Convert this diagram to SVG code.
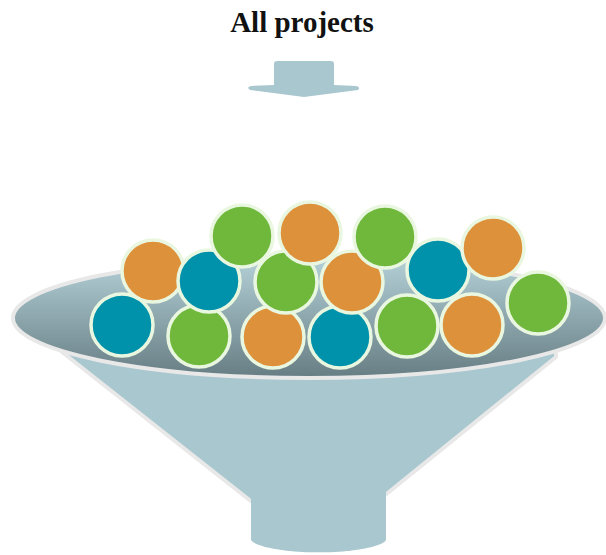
<svg xmlns="http://www.w3.org/2000/svg" width="606" height="555" viewBox="0 0 606 555">
<style>
.ball{stroke:#eaf7e0;stroke-width:3.5}
.o{fill:#dd913a}.g{fill:#6fb83b}.t{fill:#0092aa}
.funnel{fill:#a9c7cf}
</style>
<defs>
<linearGradient id="bowl" x1="0" y1="0" x2="0" y2="1">
<stop offset="0" stop-color="#b4d0d7"/>
<stop offset="1" stop-color="#667d83"/>
</linearGradient>
</defs>
<rect width="606" height="555" fill="#ffffff"/>
<g id="title">
<text x="302" y="32" text-anchor="middle" font-family="'Liberation Serif', serif" font-weight="bold" font-size="29" fill="#111">All projects</text>
</g>
<g id="arrow">
<path class="funnel" d="M277,61 L331,61 Q334,61 334,64 L334,85 L356,86 Q361,87 358,90 L304,97 L250,90 Q246,87 251,86 L274,85 L274,64 Q274,61 277,61 Z"/>
</g>
<g id="funnel">
<polygon class="funnel" points="62,352 252,502 384,496 556,357 556,320 62,320" stroke="#e8e8e8" stroke-width="4" stroke-linejoin="round"/>
<path class="funnel" d="M251,470 L251,540 A68,14 0 0 0 386,540 L386,470 Z"/>
<ellipse cx="309" cy="318" rx="296" ry="60" fill="url(#bowl)" stroke="#e8e8e8" stroke-width="4"/>
</g>
<g id="balls">
<circle class="ball t" cx="122" cy="325" r="31"/>
<circle class="ball g" cx="199" cy="336" r="31"/>
<circle class="ball o" cx="273" cy="337" r="31"/>
<circle class="ball t" cx="340" cy="337" r="31"/>
<circle class="ball g" cx="407" cy="326" r="31"/>
<circle class="ball o" cx="472" cy="325" r="31"/>
<circle class="ball o" cx="153" cy="271" r="31"/>
<circle class="ball t" cx="209" cy="281" r="31"/>
<circle class="ball g" cx="286" cy="282" r="31"/>
<circle class="ball o" cx="352" cy="282" r="31"/>
<circle class="ball t" cx="438" cy="270" r="31"/>
<circle class="ball g" cx="242" cy="236" r="31"/>
<circle class="ball o" cx="310" cy="233" r="31"/>
<circle class="ball g" cx="385" cy="237" r="31"/>
<circle class="ball o" cx="493" cy="248" r="31"/>
<circle class="ball g" cx="538" cy="303" r="31"/>
</g>
</svg>
